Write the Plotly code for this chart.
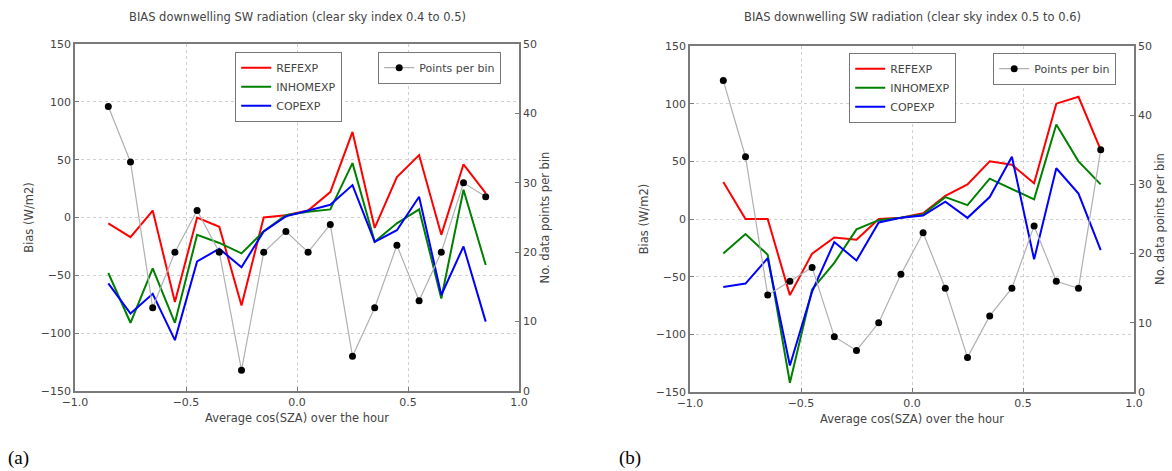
import plotly.graph_objects as go

# ---------------- data ----------------
cos_sza = [-0.85, -0.75, -0.65, -0.55, -0.45, -0.35, -0.25, -0.15, -0.05,
           0.05, 0.15, 0.25, 0.35, 0.45, 0.55, 0.65, 0.75, 0.85]

# Panel (a): clear sky index 0.4 to 0.5
a_refexp = [-5, -17, 6, -73, 0, -8, -76, 0, 2, 6, 22, 74, -9, 35, 54, -15, 46, 21]
a_inhomexp = [-48, -91, -44, -91, -15, -22, -31, -12, 2, 5, 7, 47, -21, -5, 7, -70, 24, -41]
a_copexp = [-57, -83, -66, -106, -38, -27, -43, -12, 1, 6, 11, 28, -21, -11, 18, -67, -25, -90]
a_points = [41, 33, 12, 20, 26, 20, 3, 20, 23, 20, 24, 5, 12, 21, 13, 20, 30, 28]

# Panel (b): clear sky index 0.5 to 0.6
b_refexp = [32, 0, 0, -66, -30, -16, -18, 0, 1, 5, 20, 30, 50, 47, 31, 100, 106, 60]
b_inhomexp = [-30, -13, -31, -142, -61, -38, -9, -1, 1, 4, 19, 12, 35, 26, 17, 82, 50, 30]
b_copexp = [-59, -56, -34, -127, -63, -20, -36, -3, 1, 3, 15, 1, 19, 54, -35, 44, 22, -27]
b_points = [45, 34, 14, 16, 18, 8, 6, 10, 17, 23, 15, 5, 11, 15, 24, 16, 15, 35]

titles = ["BIAS downwelling SW radiation (clear sky index 0.4 to 0.5)",
          "BIAS downwelling SW radiation (clear sky index 0.5 to 0.6)"]
panel_labels = ["(a)", "(b)"]
series_names = ["REFEXP", "INHOMEXP", "COPEXP"]
series_colors = ["#ff0000", "#008000", "#0000ff"]

W, H = 1172, 471
TXT = "#444444"
FONT = "DejaVu Sans"

# plot-area pixel boxes (left, right, top, bottom)
boxes = [(75, 519, 44, 391), (690, 1134, 46, 392)]

fig = go.Figure()

panels = [
    (a_refexp, a_inhomexp, a_copexp, a_points),
    (b_refexp, b_inhomexp, b_copexp, b_points),
]
legend_pos = [((235, 52), (378, 52)), ((849, 53), (993, 53))]

for p, (ref, inh, cop, pts) in enumerate(panels):
    xa = "x" if p == 0 else "x2"
    yl = "y" if p == 0 else "y3"
    yr = "y2" if p == 0 else "y4"
    lg1 = "legend" if p == 0 else "legend3"
    lg2 = "legend2" if p == 0 else "legend4"
    # points per bin (secondary axis)
    fig.add_trace(go.Scatter(
        x=cos_sza, y=pts, mode="lines+markers", name="Points per bin",
        line=dict(color="#b0b0b0", width=1.2),
        marker=dict(color="black", size=7),
        xaxis=xa, yaxis=yr, legend=lg2))
    for vals, name, col in zip((ref, inh, cop), series_names, series_colors):
        fig.add_trace(go.Scatter(
            x=cos_sza, y=vals, mode="lines", name=name,
            line=dict(color=col, width=2),
            xaxis=xa, yaxis=yl, legend=lg1))

def xdom(b):
    return [b[0] / W, b[1] / W]

def ydom(b):
    return [1 - b[3] / H, 1 - b[2] / H]

axis_common = dict(
    showline=True, linecolor="#7a7a7a", linewidth=1.5, mirror=False,
    ticks="inside", ticklen=4, tickcolor="#7a7a7a",
    tickfont=dict(family=FONT, size=11, color=TXT),
    zeroline=False, automargin=False,
)

layout = dict(
    width=W, height=H,
    margin=dict(l=0, r=0, t=0, b=0, autoexpand=False),
    paper_bgcolor="white", plot_bgcolor="white",
    font=dict(family=FONT, size=11, color=TXT),
    showlegend=True,
)

GRID = "#d0d0d0"
for p, b in enumerate(boxes):
    xname = "xaxis" if p == 0 else "xaxis2"
    ylname = "yaxis" if p == 0 else "yaxis3"
    yrname = "yaxis2" if p == 0 else "yaxis4"
    yl_id = "y" if p == 0 else "y3"
    x_id = "x" if p == 0 else "x2"
    layout[xname] = dict(
        axis_common, domain=xdom(b), anchor=yl_id, range=[-1, 1],
        tick0=-1, dtick=0.5, tickformat=".1f",
        showgrid=True, gridcolor=GRID, griddash="dot", gridwidth=1.2,
        mirror=True,
        title=dict(text="Average cos(SZA) over the hour",
                   font=dict(family=FONT, size=11.5, color=TXT), standoff=6),
    )
    layout[ylname] = dict(
        axis_common, domain=ydom(b), anchor=x_id, range=[-150, 150],
        tick0=-150, dtick=50,
        showgrid=True, gridcolor=GRID, griddash="dot", gridwidth=1.2,
        title=dict(text="Bias (W/m2)",
                   font=dict(family=FONT, size=11.5, color=TXT), standoff=5),
    )
    layout[yrname] = dict(
        axis_common, domain=ydom(b), anchor=x_id, overlaying=yl_id,
        side="right", range=[0, 50], tick0=0, dtick=10, showgrid=False,
        title=dict(text="No. data points per bin",
                   font=dict(family=FONT, size=11.5, color=TXT), standoff=5),
    )

leg_style = dict(
    bgcolor="white", bordercolor="#777777", borderwidth=1.2,
    font=dict(family=FONT, size=11, color=TXT),
    xanchor="left", yanchor="top", tracegroupgap=0, itemwidth=30,
)
leg_names = [("legend", "legend2"), ("legend3", "legend4")]
for p in range(2):
    (x1, y1), (x2, y2) = legend_pos[p]
    layout[leg_names[p][0]] = dict(leg_style, x=x1 / W, y=1 - y1 / H)
    layout[leg_names[p][1]] = dict(leg_style, x=x2 / W, y=1 - y2 / H)

annotations = []
for p, b in enumerate(boxes):
    annotations.append(dict(
        text=titles[p], xref="paper", yref="paper",
        x=(b[0] + b[1]) / 2 / W, y=1 - 17 / H,
        xanchor="center", yanchor="middle", showarrow=False,
        font=dict(family=FONT, size=11.5, color=TXT)))
for lab, xpx in zip(panel_labels, (6, 617)):
    annotations.append(dict(text=lab, xref="paper", yref="paper",
                            x=xpx / W, y=1 - 458 / H, xanchor="left", yanchor="middle",
                            showarrow=False,
                            font=dict(family="Liberation Serif", size=19, color="black")))
layout["annotations"] = annotations

fig.update_layout(layout)
fig.write_html(
    "out.html",
    config={"displayModeBar": False},
    post_script="document.body.style.margin='0px';document.body.style.overflow='hidden';",
)
